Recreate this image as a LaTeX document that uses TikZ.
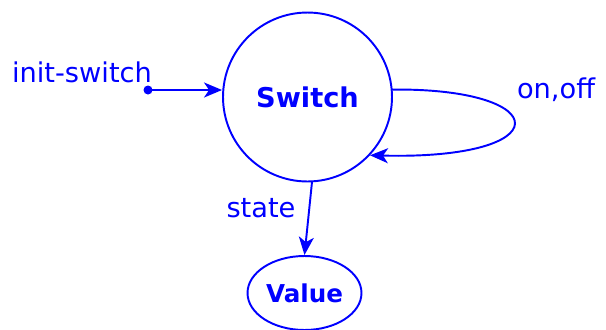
\documentclass[tikz,border=0pt]{standalone}
\usepackage{fontspec}
\setmainfont{DejaVu Sans}
\usetikzlibrary{shapes.geometric,arrows.meta,calc,positioning}

\begin{document}
\begin{tikzpicture}[x=0.02cm,y=-0.02cm,line join=round,line cap=round,line width=1.1pt,
  every node/.style={text=blue},
  statenode/.style={draw=blue,line width=1.1pt,inner sep=0pt,font=\bfseries},
  edge/.style={draw=blue,-{Stealth[length=3.6mm,width=3mm,inset=1mm]}},
  lbl/.style={font=\fontsize{15.5}{18}\selectfont}]
\useasboundingbox (0,0) rectangle (606,329);
\coordinate (I) at (148,90);
\node[statenode,circle,minimum size=3.38cm,font=\fontsize{15.5}{18}\bfseries\selectfont] (switch) at (307.5,97) {Switch};
\node[statenode,ellipse,minimum width=2.28cm,minimum height=1.48cm,font=\fontsize{14}{16}\bfseries\selectfont] (value) at (304.5,293) {Value};
% edges
\fill[blue] (I) circle (4.5);
\draw[edge] (I) -- (switch.west|-I);
\draw[edge] (switch.5) .. controls (555,88) and (560,160) .. (switch.-43);
\draw[edge] (switch.-87) -- (value.north);
% labels
\foreach \n/\p/\t in {lswitch/{82,72}/init-switch,lonoff/{556,90}/{on,off},lstate/{261,208}/state}{\node[lbl] (\n) at (\p) {\t};}
\end{tikzpicture}
\end{document}
